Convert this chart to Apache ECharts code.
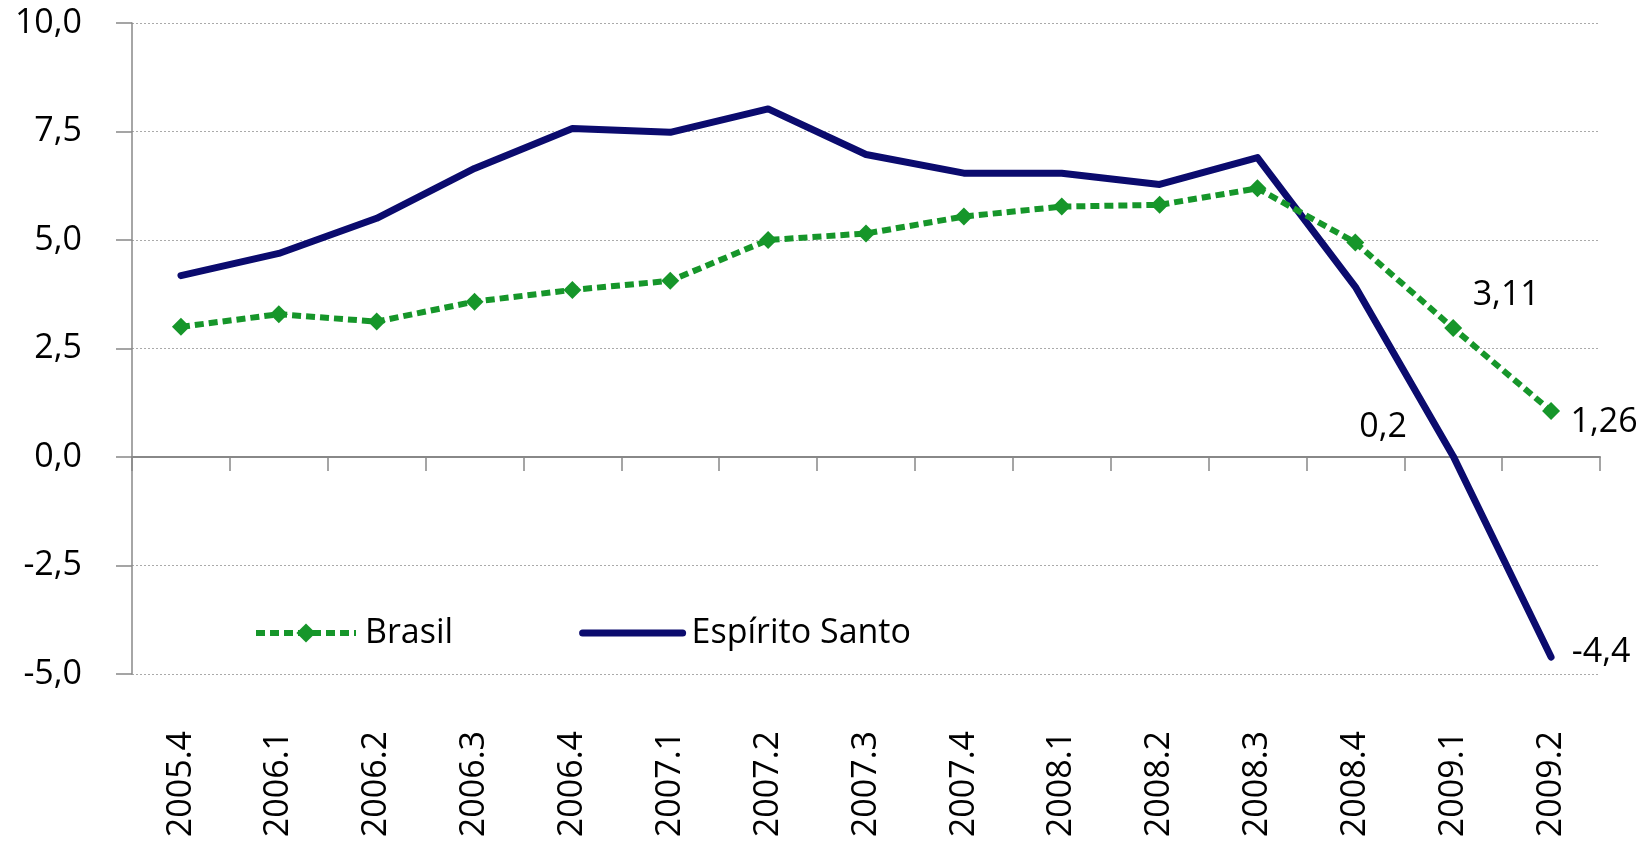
<!DOCTYPE html>
<html>
<head>
<meta charset="utf-8">
<script src="https://cdn.jsdelivr.net/npm/echarts@6/dist/echarts.min.js"></script>
<style>
html,body{margin:0;padding:0;background:#fff;}
#c{width:1640px;height:842px;}
</style>
</head>
<body>
<div id="c"></div>
<script>
const categories = ['2005.4','2006.1','2006.2','2006.3','2006.4','2007.1','2007.2','2007.3','2007.4','2008.1','2008.2','2008.3','2008.4','2009.1','2009.2'];
const brasil = [3.00,3.29,3.12,3.58,3.85,4.06,5.00,5.15,5.54,5.77,5.81,6.19,4.94,2.97,1.06];
const espiritoSanto = [4.18,4.69,5.50,6.65,7.57,7.48,8.02,6.97,6.54,6.54,6.28,6.90,3.92,0.02,-4.61];
const brasilLabels = {13:'3,11', 14:'1,26'};
const esLabels = {13:'0,2', 14:'-4,4'};
const yMin = -5, yMax = 10, yInterval = 2.5;

const FONT = '"Open Sans", "Noto Sans", sans-serif';
const GREEN = '#16962a';
const NAVY = '#0b0b6e';

const brasilOffsets = {13:[53,-33], 14:[53,11]};
const esOffsets = {13:[-70,-29], 14:[50,-5]};

function buildData(values, labels, offsets){
  return values.map((v,i)=>{
    if (labels[i] !== undefined) {
      return {value:v, label:{show:true, formatter:labels[i], position:'inside', offset:offsets[i],
        color:'#000', fontSize:34, fontFamily:FONT}};
    }
    return v;
  });
}

const chart = echarts.init(document.getElementById('c'), null, {renderer:'canvas'});
chart.setOption({
  animation:false,
  backgroundColor:'#ffffff',
  grid:{left:132, right:40, top:23, bottom:168, containLabel:false},
  legend:{
    left:248, top:611,
    itemWidth:100, itemHeight:24, itemGap:126,
    textStyle:{fontSize:34, fontFamily:FONT, color:'#000', padding:[0,0,0,4]},
    data:[
      {name:'Brasil', lineStyle:{width:6, type:[9,5], cap:'butt', color:GREEN}, itemStyle:{color:GREEN}},
      {name:'Espírito Santo', lineStyle:{width:7, type:'solid', cap:'round', color:NAVY}, itemStyle:{opacity:0}}
    ]
  },
  xAxis:[{
    type:'category', data:categories, boundaryGap:true,
    axisLine:{onZero:true, lineStyle:{color:'#888', width:2}},
    axisTick:{show:true, length:14, lineStyle:{color:'#888', width:1.5}},
    axisLabel:{show:false},
    splitLine:{show:false}
  },{
    type:'category', data:categories, boundaryGap:true, position:'bottom',
    axisLine:{show:false, onZero:false}, axisTick:{show:false},
    axisLabel:{show:true, rotate:90, margin:57, fontSize:34, fontFamily:FONT, color:'#000', interval:0},
    splitLine:{show:false}
  }],
  yAxis:{
    type:'value', min:yMin, max:yMax, interval:yInterval,
    axisLine:{show:true, lineStyle:{color:'#888', width:1.5}},
    axisTick:{show:true, length:16, lineStyle:{color:'#888', width:1.5}},
    axisLabel:{margin:50, fontSize:34, fontFamily:FONT, color:'#000',
      formatter:v=>v.toFixed(1).replace('.',','), padding:[8,0,0,0]},
    splitLine:{show:true, lineStyle:{color:'#aaa', type:[2,2], width:1}}
  },
  series:[{
    name:'Brasil', type:'line', xAxisIndex:0,
    data:buildData(brasil, brasilLabels, brasilOffsets),
    symbol:'diamond', symbolSize:18, showSymbol:true,
    itemStyle:{color:GREEN},
    lineStyle:{color:GREEN, width:6, type:[9,5], cap:'butt'},
    z:3
  },{
    name:'Espírito Santo', type:'line', xAxisIndex:0,
    data:buildData(espiritoSanto, esLabels, esOffsets),
    symbol:'circle', symbolSize:1, showSymbol:true,
    itemStyle:{color:NAVY},
    lineStyle:{color:NAVY, width:7, cap:'round', join:'round'},
    z:2
  }]
});
</script>
</body>
</html>
